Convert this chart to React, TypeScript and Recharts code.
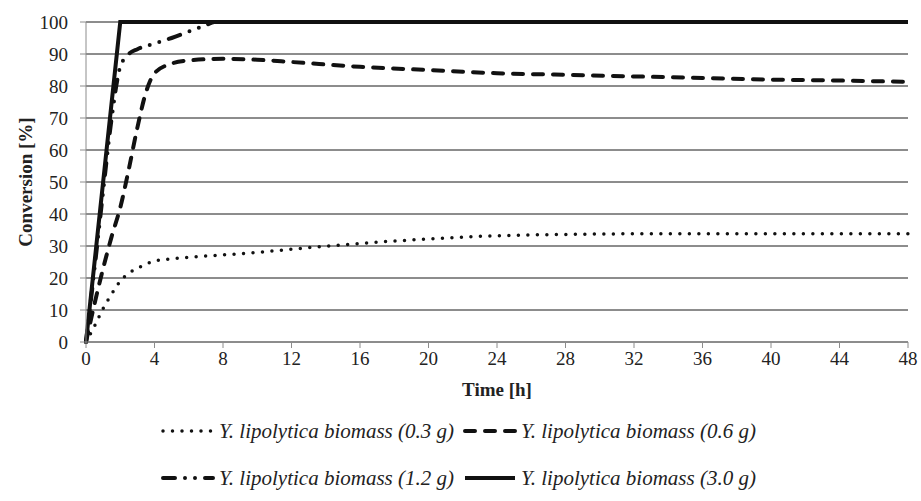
import { CartesianGrid, Legend, Line, LineChart, XAxis, YAxis } from 'recharts';

// sampling times [h] and conversions [%]
const timesLow = [0, 0.5, 1, 1.5, 2, 2.5, 3, 4, 5, 6, 8, 10, 12, 16, 20, 24, 28, 32, 36, 40, 44, 48];
const conv03 = [0, 5, 10.5, 15, 19, 21.5, 23, 25.3, 26, 26.5, 27.2, 28, 29, 30.8, 32.2, 33.2, 33.6, 33.8, 33.8, 33.8, 33.8, 33.8];

const timesMid = [0, 0.5, 1, 1.5, 2, 2.5, 3, 3.5, 4, 5, 6, 8, 10, 12, 16, 20, 24, 28, 32, 36, 40, 44, 48];
const conv06 = [0, 12, 23, 33, 42, 54, 67, 78, 84, 87, 88, 88.5, 88.2, 87.5, 86, 85, 84, 83.5, 83, 82.5, 82, 81.7, 81.3];

const timesHigh = [0, 0.5, 1, 1.5, 2, 2.5, 3, 4, 5, 6, 7, 7.5, 12, 24, 36, 48];
const conv12 = [0, 23, 47, 70, 86, 90, 91.5, 93.3, 95, 97, 99, 100, 100, 100, 100, 100];

const timesMax = [0, 2, 48];
const conv30 = [0, 100, 100];

const xTicks = [0, 4, 8, 12, 16, 20, 24, 28, 32, 36, 40, 44, 48];
const yTicks = [0, 10, 20, 30, 40, 50, 60, 70, 80, 90, 100];

const toPoints = (t: number[], v: number[]) => t.map((time, i) => ({ time, value: v[i] }));

const series = [
  { name: 'Y. lipolytica biomass (0.3 g)', data: toPoints(timesLow, conv03), dash: '0 9.5', width: 3.5, type: 'monotone' },
  { name: 'Y. lipolytica biomass (0.6 g)', data: toPoints(timesMid, conv06), dash: '10 10', width: 4, type: 'monotone' },
  { name: 'Y. lipolytica biomass (1.2 g)', data: toPoints(timesHigh, conv12), dash: '12 10 0 10 0 10', width: 4, type: 'monotone' },
  { name: 'Y. lipolytica biomass (3.0 g)', data: toPoints(timesMax, conv30), dash: undefined, width: 4, type: 'linear' },
] as const;

const serif = "'Liberation Serif', 'Times New Roman', serif";
const tickStyle = { fill: '#222', fontSize: 19, fontFamily: serif, style: { fontFamily: serif } };
const titleStyle = { fontFamily: serif, fontWeight: 'bold', fontSize: 19, fill: '#222' };

function LegendItem({ s }: { s: (typeof series)[number] }) {
  return (
    <span style={{ display: 'inline-flex', alignItems: 'center', margin: '0 4px' }}>
      <svg width={56} height={10}>
        <line
          x1={3}
          y1={5}
          x2={53}
          y2={5}
          stroke="#111"
          strokeWidth={s.width}
          strokeDasharray={s.dash}
          strokeLinecap={s.dash ? 'round' : 'butt'}
        />
      </svg>
      <span style={{ marginLeft: 3 }}>{s.name}</span>
    </span>
  );
}

function ChartLegend() {
  return (
    <div
      style={{
        height: 103,
        boxSizing: 'border-box',
        paddingTop: 22,
        fontFamily: serif,
        fontStyle: 'italic',
        fontSize: 21,
        lineHeight: '22px',
        color: '#222',
      }}
    >
      <div style={{ display: 'flex', justifyContent: 'center', height: 22, paddingLeft: 8 }}>
        <LegendItem s={series[0]} />
        <LegendItem s={series[1]} />
      </div>
      <div style={{ display: 'flex', justifyContent: 'center', marginTop: 25, height: 22, paddingLeft: 8 }}>
        <LegendItem s={series[2]} />
        <LegendItem s={series[3]} />
      </div>
    </div>
  );
}

export default function App() {
  return (
    <div style={{ position: 'absolute', left: 0, top: 0, background: '#fff', fontFamily: serif }}>
      <LineChart width={921} height={501} margin={{ top: 22, right: 13, left: 0, bottom: 0 }} style={{ fontFamily: serif }}>
        <CartesianGrid stroke="#1a1a1a" vertical={false} />
        <XAxis
          dataKey="time"
          type="number"
          domain={[0, 48]}
          ticks={xTicks}
          allowDuplicatedCategory={false}
          stroke="#8c8c8c"
          tickSize={6}
          tickMargin={4}
          height={56}
          tick={tickStyle}
          label={{ value: 'Time [h]', position: 'insideBottom', offset: 2, style: titleStyle }}
        />
        <YAxis
          type="number"
          domain={[0, 100]}
          ticks={yTicks}
          width={86}
          stroke="#8c8c8c"
          tickSize={6}
          tickMargin={12}
          tick={tickStyle}
          label={{
            value: 'Conversion [%]',
            angle: -90,
            position: 'insideLeft',
            offset: 25,
            style: { ...titleStyle, textAnchor: 'middle' },
          }}
        />
        <Legend verticalAlign="bottom" content={() => <ChartLegend />} />
        {series.map((s) => (
          <Line
            key={s.name}
            data={s.data}
            dataKey="value"
            name={s.name}
            type={s.type}
            stroke="#111"
            strokeWidth={s.width}
            strokeDasharray={s.dash}
            strokeLinecap={s.dash ? 'round' : 'butt'}
            dot={false}
            activeDot={false}
            isAnimationActive={false}
          />
        ))}
      </LineChart>
    </div>
  );
}
